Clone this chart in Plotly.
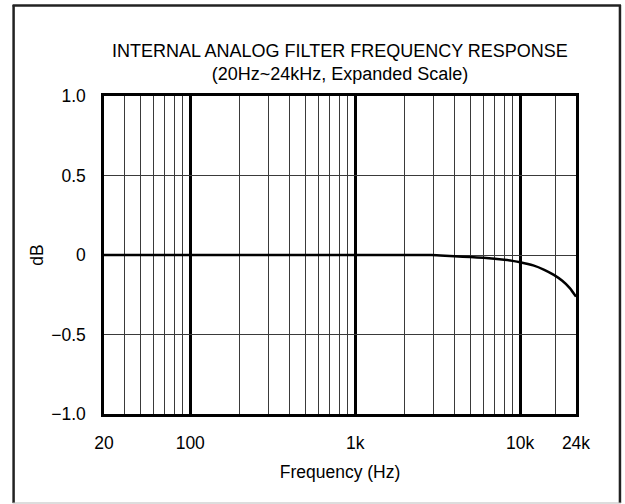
import plotly.graph_objects as go

# Frequency response data (Hz, dB)
freq_hz = [30, 100, 300, 1000, 2000, 2900, 3500, 4000, 5000, 6000, 7000, 8000,
           9000, 10000, 12000, 14000, 16000, 18000, 20000, 21800]
gain_db = [0, 0, 0, 0, 0, 0, -0.004, -0.008, -0.013, -0.018, -0.024, -0.030,
           -0.037, -0.045, -0.065, -0.093, -0.125, -0.162, -0.208, -0.262]

# Axis ticks
x_tick_vals = [30, 100, 1000, 10000, 21800]
x_tick_text = ["20", "100", "1k", "10k", "24k"]
x_minor_grid = [40, 50, 60, 70, 80, 90,
                200, 300, 400, 500, 600, 700, 800, 900,
                2000, 3000, 4000, 5000, 6000, 7000, 8000, 9000, 16400]
y_tick_vals = [-1.0, -0.5, 0, 0.5, 1.0]
y_tick_text = ["\u22121.0", "\u22120.5", "0", "0.5", "1.0"]

FONT = "Liberation Sans, Arial, sans-serif"
FS = 17.5

fig = go.Figure()
fig.add_trace(go.Scatter(
    x=freq_hz, y=gain_db, mode="lines",
    line=dict(color="black", width=2.5, shape="spline", smoothing=0.6),
    showlegend=False, hoverinfo="skip",
))

L, R, T, B = 103.5, 49, 96, 90
W, H = 625, 504
pw, ph = W - L - R, H - T - B

def px_x(p):
    return (p - L) / pw

def px_y(p):
    return (H - B - p) / ph

frame = dict(color="#222222", width=2.5)
fig.update_layout(
    width=W, height=H,
    margin=dict(l=L, r=R, t=T, b=B, autoexpand=False),
    paper_bgcolor="white", plot_bgcolor="white",
    font=dict(family=FONT, size=FS, color="black"),
    title=dict(
        text="INTERNAL ANALOG FILTER FREQUENCY RESPONSE<br>(20Hz~24kHz, Expanded Scale)",
        x=0.5, xref="paper", xanchor="center",
        y=1 - 57 / H, yref="container", yanchor="middle",
        font=dict(family=FONT, size=18, color="black"),
    ),
    xaxis=dict(
        type="log", automargin=False,
        range=[1.47712, 4.33846],
        tickmode="array", tickvals=x_tick_vals, ticktext=x_tick_text,
        ticks="outside", ticklen=11.5, tickcolor="rgba(0,0,0,0)",
        showgrid=True, gridcolor="black", gridwidth=2.5,
        showline=True, mirror=True, linecolor="black", linewidth=2.5,
        zeroline=False,
        minor=dict(tickmode="array", tickvals=x_minor_grid, showgrid=True,
                   gridcolor="#3a3a3a", gridwidth=1, ticks=""),
        title=dict(text="Frequency (Hz)", standoff=13.5,
                   font=dict(family=FONT, size=FS)),
        tickfont=dict(family=FONT, size=FS),
    ),
    yaxis=dict(
        range=[-1.0, 1.0], automargin=False,
        tickmode="array", tickvals=y_tick_vals, ticktext=y_tick_text,
        ticks="outside", ticklen=12, tickcolor="rgba(0,0,0,0)",
        showgrid=True, gridcolor="#3a3a3a", gridwidth=1,
        showline=True, mirror=True, linecolor="black", linewidth=2.5,
        zeroline=False,
        title=dict(text="dB", standoff=4, font=dict(family=FONT, size=FS)),
        tickfont=dict(family=FONT, size=FS),
    ),
    shapes=[
        dict(type="line", xref="paper", yref="paper",
             x0=px_x(12), x1=px_x(621), y0=px_y(5.5), y1=px_y(5.5), line=frame),
        dict(type="line", xref="paper", yref="paper",
             x0=px_x(13), x1=px_x(13), y0=px_y(5), y1=px_y(503), line=frame),
        dict(type="line", xref="paper", yref="paper",
             x0=px_x(620), x1=px_x(620), y0=px_y(5), y1=px_y(503), line=frame),
        dict(type="line", xref="paper", yref="paper",
             x0=px_x(12), x1=px_x(621), y0=px_y(503), y1=px_y(503),
             line=dict(color="#bbbbbb", width=1)),
    ],
)

fig.write_html("out.html", config={"displayModeBar": False},
               post_script="document.body.style.margin='0px';")
